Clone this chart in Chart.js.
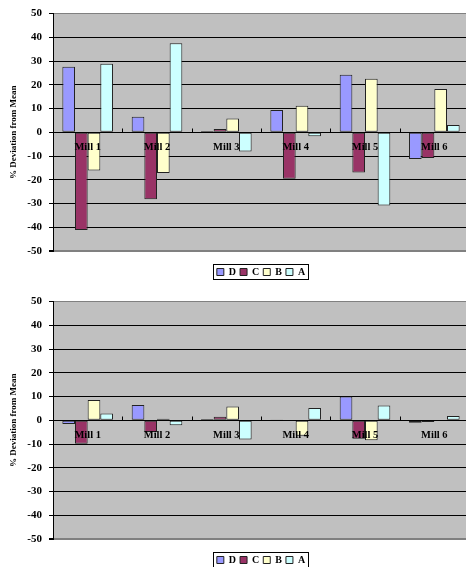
<!DOCTYPE html>
<html>
<head>
<meta charset="utf-8">
<script src="https://cdn.jsdelivr.net/npm/chart.js@4.4.1/dist/chart.umd.min.js"></script>
<style>
  html, body { margin: 0; padding: 0; background: #fff; overflow: hidden; width: 466px; height: 567px; }
  canvas { position: absolute; left: 0; }
  #topChart { top: 0; }
  #bottomChart { top: 288px; }
</style>
</head>
<body>
<canvas id="topChart" width="469" height="288"></canvas>
<canvas id="bottomChart" width="469" height="288"></canvas>
<script>
// Categories and series names
const mills = ['Mill 1', 'Mill 2', 'Mill 3', 'Mill 4', 'Mill 5', 'Mill 6'];
const seriesNames = ['D', 'C', 'B', 'A'];
const seriesColors = ['#9999ff', '#993366', '#ffffcc', '#ccffff'];

// Value axis range (% deviation from mean)
const yMin = -50;
const yMax = 50;
const yStep = 10;
const yTitle = '% Deviation from Mean';

// Upper panel
const topD = [27.6, 6.6, 0.6, 9.4, 24.2, -11.2];
const topC = [-41.2, -28.2, 1.4, -19.6, -16.9, -10.8];
const topB = [-16.1, -17.1, 5.8, 11.2, 22.6, 18.2];
const topA = [28.9, 37.5, -8.1, -1.7, -30.8, 3.1];

// Lower panel
const bottomD = [-1.6, 6.4, 0.6, 0.3, 10.0, -1.0];
const bottomC = [-9.9, -4.9, 1.5, -0.3, -7.8, -0.7];
const bottomB = [8.6, 0.7, 5.8, -6.5, -8.4, 0.0];
const bottomA = [2.9, -2.1, -8.1, 5.2, 6.2, 1.8];

const serif = '"Liberation Serif", "Times New Roman", serif';

// Grey plot area behind the grid
const plotBackground = {
  id: 'plotBackground',
  beforeDraw(chart) {
    const { ctx, chartArea: a } = chart;
    ctx.save();
    ctx.fillStyle = '#c0c0c0';
    ctx.fillRect(a.left, a.top, a.right - a.left, a.bottom - a.top);
    ctx.restore();
  }
};

// Category axis drawn along the zero line: tick marks between groups and labels
const categoryAxisAtZero = {
  id: 'categoryAxisAtZero',
  afterDatasetsDraw(chart) {
    const { ctx } = chart;
    const xs = chart.scales.x;
    const ys = chart.scales.y;
    const y0 = Math.round(ys.getPixelForValue(0)) + 0.5;
    const labels = chart.data.labels;
    ctx.save();
    ctx.strokeStyle = '#000';
    ctx.lineWidth = 1;
    for (let i = 1; i <= labels.length; i++) {
      const px = Math.round((xs.getPixelForValue(i - 1) + xs.getPixelForValue(i)) / 2) + 0.5;
      ctx.beginPath();
      ctx.moveTo(px, y0 - 4);
      ctx.lineTo(px, y0);
      ctx.stroke();
    }
    ctx.fillStyle = '#000';
    ctx.font = 'bold 10.5px ' + serif;
    ctx.textAlign = 'center';
    ctx.textBaseline = 'middle';
    labels.forEach((label, i) => {
      ctx.fillText(label, xs.getPixelForValue(i), y0 + 15);
    });
    ctx.restore();
  }
};

// Thin frame around the legend entries
const legendFrame = {
  id: 'legendFrame',
  afterDraw(chart) {
    const boxes = chart.legend && chart.legend.legendHitBoxes;
    if (!boxes || !boxes.length) return;
    const left = Math.min(...boxes.map(b => b.left));
    const right = Math.max(...boxes.map(b => b.left + b.width));
    const top = Math.min(...boxes.map(b => b.top));
    const bottom = Math.max(...boxes.map(b => b.top + b.height));
    const { ctx } = chart;
    ctx.save();
    ctx.strokeStyle = '#000';
    ctx.lineWidth = 1;
    ctx.strokeRect(Math.round(left - 4) + 0.5, Math.round(top - 3) + 0.5,
                   Math.round(right - left + 7), Math.round(bottom - top + 5));
    ctx.restore();
  }
};

function buildChart(canvasId, d, c, b, a) {
  const values = [d, c, b, a];
  return new Chart(document.getElementById(canvasId), {
    type: 'bar',
    data: {
      labels: mills,
      datasets: seriesNames.map((name, i) => ({
        label: name,
        data: values[i],
        backgroundColor: seriesColors[i],
        borderColor: '#222',
        borderWidth: 1,
        borderSkipped: false,
        categoryPercentage: 0.73,
        barPercentage: 1.0
      }))
    },
    options: {
      responsive: false,
      animation: false,
      devicePixelRatio: 1,
      layout: { padding: { top: 12, bottom: 1, left: 0, right: 0 } },
      plugins: {
        legend: {
          display: true,
          position: 'bottom',
          fullSize: false,
          maxHeight: 24,
          labels: {
            boxWidth: 7,
            boxHeight: 7,
            padding: 4,
            color: '#000',
            font: { family: serif, size: 10, weight: 'bold' }
          }
        },
        tooltip: { enabled: false }
      },
      scales: {
        x: {
          display: true,
          ticks: { display: false },
          grid: { display: false, drawTicks: false },
          border: { display: false },
          afterFit(scale) { scale.height = 12; }
        },
        y: {
          min: yMin,
          max: yMax,
          ticks: {
            stepSize: yStep,
            color: '#000',
            padding: 7,
            font: { family: serif, size: 11, weight: 'bold' }
          },
          grid: {
            color: ctx => (ctx.tick && Math.abs(ctx.tick.value) === 50) ? '#808080' : '#000',
            lineWidth: ctx => (ctx.tick && ctx.tick.value === -50) ? 2 : 1,
            tickLength: 4,
            tickColor: '#000'
          },
          border: { display: true, color: '#000', width: 1 },
          title: {
            display: true,
            text: yTitle,
            color: '#000',
            font: { family: serif, size: 9, weight: 'bold' },
            padding: { top: 8, bottom: 0 }
          },
          afterFit(scale) { scale.width = 53; }
        }
      }
    },
    plugins: [plotBackground, categoryAxisAtZero, legendFrame]
  });
}

buildChart('topChart', topD, topC, topB, topA);
buildChart('bottomChart', bottomD, bottomC, bottomB, bottomA);
</script>
</body>
</html>
